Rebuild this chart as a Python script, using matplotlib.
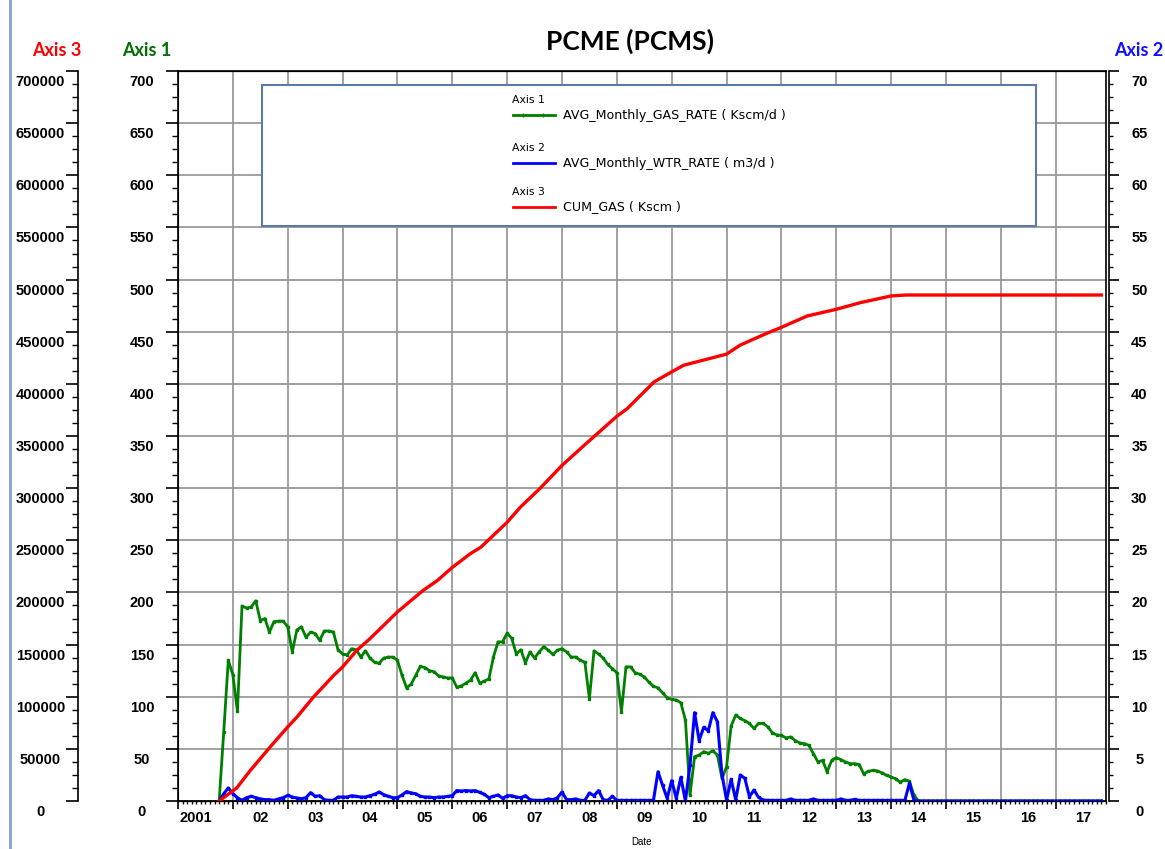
import numpy as np
import matplotlib.pyplot as plt
from matplotlib.lines import Line2D
from matplotlib.patches import Rectangle
from matplotlib.transforms import ScaledTranslation

plt.rcParams['font.family'] = ['Liberation Sans', 'DejaVu Sans']

# monthly values, first month = Oct 2001 (decimal years on x)
start_year = 2001.75

gas_rate = [0, 66, 135, 121, 86, 187, 185, 186, 192, 173,
            175, 162, 172, 172.5, 172.5, 167, 143, 164, 167, 157,
            162, 160.6, 154, 163, 163, 162, 145, 141, 140, 146,
            145, 138, 144, 137, 133, 132, 137, 138, 138, 135,
            120.6, 108.5, 112, 120.6, 129, 128, 125, 124, 120, 119,
            118, 118, 109, 110.4, 113, 116, 123, 113, 115, 117,
            138, 152.6, 152.6, 161, 156, 141, 145, 132.5, 143, 137,
            143, 148, 144.6, 140.5, 144.6, 146, 143, 138, 138, 135,
            133, 98, 144, 141, 137, 131, 127, 123, 85.4, 128.6,
            128.6, 123, 121.6, 119, 114, 110, 108.5, 103.7, 99, 97.4,
            96.8, 94.2, 77.6, 5.75, 42.5, 44, 47.3, 45.7, 48.2, 44,
            21.7, 32.9, 71.9, 82.4, 79.2, 77, 74.4, 69.6, 74.4, 74.4,
            71.2, 65.5, 63.3, 63, 60.5, 61.4, 58, 55.7, 55, 53.4,
            45.4, 37.4, 39, 28, 39, 41.6, 39.7, 37.4, 35.8, 35.8,
            35, 26, 28.5, 29.4, 28.8, 27, 24.6, 23, 21.4, 18,
            20.5, 19, 5.4, 0] + [0] * 40

wtr_rate = [0, 0.7, 1.25, 0.7, 0.32, 0.06, 0.32, 0.45, 0.32, 0.2,
            0.13, 0.13, 0.06, 0.2, 0.32, 0.54, 0.38, 0.29, 0.22, 0.32,
            0.8, 0.45, 0.51, 0.13, 0.06, 0.06, 0.38, 0.38, 0.38, 0.51,
            0.45, 0.38, 0.38, 0.51, 0.64, 0.86, 0.61, 0.45, 0.32, 0.32,
            0.58, 0.9, 0.77, 0.7, 0.45, 0.38, 0.38, 0.32, 0.38, 0.38,
            0.45, 0.51, 1.0, 0.96, 1.0, 0.96, 1.0, 0.83, 0.64, 0.32,
            0.45, 0.58, 0.26, 0.51, 0.51, 0.38, 0.32, 0.51, 0.13, 0.06,
            0.06, 0.06, 0.2, 0.13, 0.32, 0.86, 0.13, 0.13, 0.2, 0.06,
            0.06, 0.77, 0.51, 1.0, 0.13, 0.06, 0.45, 0.06, 0.06, 0.06,
            0.06, 0.06, 0.06, 0.06, 0.06, 0.06, 2.8, 1.5, 0.26, 1.95,
            0.26, 2.27, 0, 3.45, 8.47, 5.8, 7.06, 6.74, 8.47, 7.6,
            2.5, 0.1, 2.08, 0.1, 2.5, 2.17, 0.42, 1.05, 0.35, 0.1,
            0.06, 0.06, 0.06, 0.06, 0.06, 0.2, 0.06, 0.06, 0.06, 0.06,
            0.2, 0.06, 0.06, 0.06, 0.06, 0.06, 0.2, 0.06, 0.06, 0.15,
            0.06, 0.06, 0.06, 0.06, 0.06, 0.06, 0.06, 0.06, 0.06, 0.06,
            0.06, 1.7, 0.06, 0] + [0] * 40

cum_years = [2001.75, 2002.07, 2002.32, 2002.68, 2003.0, 2003.17, 2003.47,
             2003.84, 2004.0, 2004.26, 2004.5, 2005.0, 2005.47, 2005.73,
             2006.0, 2006.33, 2006.52, 2007.0, 2007.24, 2007.61, 2008.0,
             2008.39, 2009.0, 2009.19, 2009.68, 2010.0, 2010.22, 2010.58,
             2011.0, 2011.25, 2011.73, 2012.0, 2012.47, 2013.0, 2013.44,
             2014.0, 2014.27, 2017.83]
cum_gas = [0, 12500, 29400, 51800, 71000, 80600, 99700,
           120500, 128500, 144500, 155700, 181300, 202000, 211500,
           224000, 237200, 243300, 267300, 281700, 300300, 321800,
           340400, 368900, 376300, 401900, 411500, 417900, 422800,
           428500, 437200, 448400, 454200, 465100, 471500, 477900,
           484300, 485200, 485200]

year_labels = ['2001', '02', '03', '04', '05', '06', '07', '08', '09',
               '10', '11', '12', '13', '14', '15', '16', '17']

W, H = 1165, 849
fx = lambda px: px / W
fy = lambda py: 1 - py / H

months = start_year + np.arange(len(gas_rate)) / 12.0

fig = plt.figure(figsize=(W / 100, H / 100), dpi=100)
ax = fig.add_axes([fx(178), fy(801), (1106 - 178) / W, (801 - 71) / H])
ax2 = ax.twinx()
ax3 = ax.twinx()

green, blue, red = '#008000', '#0000ff', '#ff0000'
tick_font = dict(fontsize=10.5, fontweight='bold')

# axis 1 (left, gas rate)
ax.plot(months, gas_rate, color=green, lw=2, marker='s', ms=1.6)
ax.set_xlim(2001.0, 2017.9)
ax.set_ylim(0, 700)
ax.tick_params(axis='y', which='major', length=9, width=1.2, pad=17)
ax.tick_params(axis='y', which='minor', length=4, width=1.0)
ax.set_yticks(np.arange(0, 701, 50), labels=[str(v) for v in range(0, 701, 50)],
              ha='center', va='top', **tick_font)
ax.set_yticks(np.arange(0, 701, 12.5), minor=True)

# x axis: year boundaries + monthly minor ticks, labels mid-year
ax.xaxis.remove_overlapping_locs = False
ax.set_xticks(np.arange(2001, 2018), labels=[''] * 17)
mpos, mlab = [], []
for i, y in enumerate(range(2001, 2018)):
    lab_month = 4 if y == 2001 else 6
    for m in range(1, 12):
        mpos.append(y + m / 12)
        mlab.append(year_labels[i] if m == lab_month else '')
ax.set_xticks(mpos, labels=mlab, minor=True, **tick_font)
ax.tick_params(axis='x', which='major', length=6, width=1.2)
ax.tick_params(axis='x', which='minor', length=2.5, width=1.0, pad=5)
ax.set_xlabel('Date', fontsize=7, labelpad=8)
ax.grid(which='major', color='#9a9a9a', lw=1.3)
for s in ax.spines.values():
    s.set_color('black')
    s.set_linewidth(1.2)

# axis 2 (right, water rate)
ax2.plot(months, wtr_rate, color=blue, lw=2.2, marker='s', ms=1.6)
ax2.set_ylim(0, 70)
ax2.spines['right'].set_position(('outward', 2))
ax2.spines['right'].set_linewidth(1.2)
ax2.tick_params(axis='y', which='major', length=7, width=1.2, pad=15)
ax2.tick_params(axis='y', which='minor', length=3, width=1.0)
ax2.set_yticks(np.arange(0, 71, 5), labels=[str(v) for v in range(0, 71, 5)],
               ha='center', va='top', **tick_font)
ax2.set_yticks(np.arange(0, 71, 1.25), minor=True)

# axis 3 (far left, cumulative gas)
ax3.plot(cum_years, cum_gas, color=red, lw=2.4)
ax3.set_ylim(0, 700000)
ax3.spines['right'].set_visible(False)
ax3.spines['left'].set_visible(True)
ax3.spines['left'].set_position(('axes', -100 / 928))
ax3.spines['left'].set_linewidth(1.2)
ax3.yaxis.set_ticks_position('left')
ax3.tick_params(axis='y', which='major', length=9, width=1.2, pad=18)
ax3.tick_params(axis='y', which='minor', length=4, width=1.0)
ax3.set_yticks(np.arange(0, 700001, 50000),
               labels=[str(v) for v in range(0, 700001, 50000)],
               ha='center', va='top', **tick_font)
ax3.set_yticks(np.arange(0, 700001, 12500), minor=True)

# value labels sit a little below their tick
shift = ScaledTranslation(0, -0.04, fig.dpi_scale_trans)
for a in (ax, ax2, ax3):
    for lab in a.yaxis.get_majorticklabels():
        lab.set_transform(lab.get_transform() + shift)

# titles
head = dict(fontweight='bold', ha='center', va='center', family=['Lato', 'DejaVu Sans'])
fig.text(fx(630), fy(41), 'PCME (PCMS)', fontsize=19, color='black', **head)
fig.text(fx(57), fy(50), 'Axis 3', fontsize=13, color=red, **head)
fig.text(fx(147), fy(50), 'Axis 1', fontsize=13, color='#007000', **head)
fig.text(fx(1139), fy(50), 'Axis 2', fontsize=13, color='#1010ff', **head)

# legend box
fig.add_artist(Rectangle((fx(262), fy(226)), (1036 - 262) / W, (226 - 85) / H,
                         transform=fig.transFigure, facecolor='white',
                         edgecolor='#5b7ba6', lw=1.5, zorder=5))
entries = [('Axis 1', 'AVG_Monthly_GAS_RATE ( Kscm/d )', green, 100),
           ('Axis 2', 'AVG_Monthly_WTR_RATE ( m3/d )', blue, 148),
           ('Axis 3', 'CUM_GAS ( Kscm )', red, 192)]
leg_font = ['DejaVu Sans']
for hdr, lab, col, yy in entries:
    fig.text(fx(512), fy(yy), hdr, fontsize=7.8, ha='left', va='center',
             family=leg_font, zorder=6)
    fig.add_artist(Line2D([fx(513), fx(555)], [fy(yy + 15)] * 2, color=col,
                          lw=2, transform=fig.transFigure, zorder=6))
    fig.text(fx(563), fy(yy + 15), lab, fontsize=9.1, ha='left', va='center',
             family=leg_font, zorder=6)
fig.add_artist(Line2D([fx(523), fx(543)], [fy(115)] * 2, color=green, lw=0,
                      marker='|', ms=3, transform=fig.transFigure, zorder=7))

# left frame line of the window
fig.add_artist(Line2D([fx(10)] * 2, [0, 1], color='#7ea3d6', lw=2,
                      transform=fig.transFigure))

fig.savefig('out.png', dpi=100)
